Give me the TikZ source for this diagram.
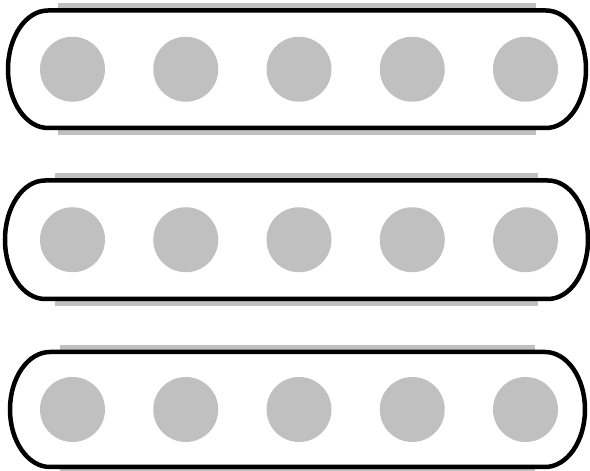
\documentclass[tikz,border=0pt]{standalone}
\begin{document}
\begin{tikzpicture}[x=1pt,y=1pt]
\definecolor{dotgray}{HTML}{C0C0C0}
\tikzset{
  capsule/.style={draw=black,line width=4.5pt},
  shade/.style={draw=dotgray,line width=5pt},
  dot/.style={circle,fill=dotgray,draw=none,minimum size=65pt,inner sep=0pt}
}
\useasboundingbox (0,0) rectangle (590,471);
% #1 xl, #2 xr, #3 top, #4 bottom, #5 name prefix
\newcommand\mycapsule[5]{%
  \pgfmathsetmacro\ry{(#3-#4)/2}%
  \draw[shade] (#1+50,#3+4.75) -- (#2-50,#3+4.75);
  \draw[shade] (#1+50,#4-4.75) -- (#2-50,#4-4.75);
  \draw[capsule] (#1+40,#3) -- (#2-40,#3)
     arc[start angle=90,end angle=-90,x radius=40,y radius=\ry]
     -- (#1+40,#4)
     arc[start angle=270,end angle=90,x radius=40,y radius=\ry] -- cycle;
  \foreach \k in {0,...,4}{
    \node[dot] (#5\k) at (72.5+113.25*\k,{(#3+#4)/2}) {};
  }
}
\mycapsule{8}{586}{460.5}{343}{a}
\mycapsule{5}{588}{290.5}{172}{b}
\mycapsule{10}{585}{119}{4}{c}
\end{tikzpicture}
\end{document}
